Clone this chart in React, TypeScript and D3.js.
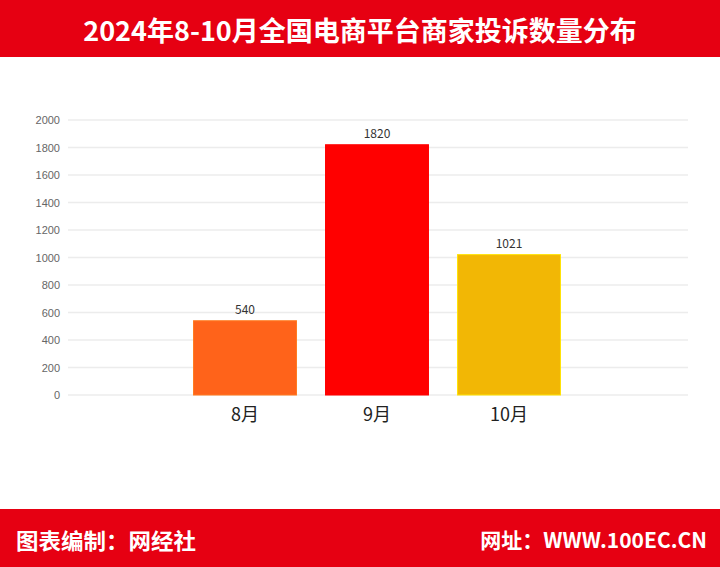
import React from "react";
import * as d3 from "d3";

const title = "2024年8-10月全国电商平台商家投诉数量分布";
const categories = ["8月", "9月", "10月"];
const values = [540, 1820, 1021];
const barColors = ["#FF631A", "#FF0000", "#F2B705"];
const yTicks = [0, 200, 400, 600, 800, 1000, 1200, 1400, 1600, 1800, 2000];
const footerLeft = "图表编制：网经社";
const footerRight = "网址：WWW.100EC.CN";

const W = 720;
const H = 567;
const RED = "#E60012";
const FONT = "'Noto Sans CJK SC', 'Noto Sans', sans-serif";

export default function App() {
  const y = d3.scaleLinear().domain([0, 2000]).range([395, 120]);
  const x = d3.scaleBand<string>().domain(categories).range([179, 575]).paddingInner(0.22).paddingOuter(0.11);
  const gridX1 = 68;
  const gridX2 = 688;

  return (
    <svg width={W} height={H} style={{ position: "absolute", left: 0, top: 0, display: "block" }}>
      <rect x={0} y={0} width={W} height={H} fill="#fff" />
      <rect x={0} y={0} width={W} height={57} fill={RED} />
      <text x={W / 2} y={29} textAnchor="middle" dominantBaseline="central" fill="#fff"
        fontFamily={FONT} fontWeight="bold" fontSize={27}>{title}</text>

      {yTicks.map((t) => (
        <g key={t}>
          <line x1={gridX1} x2={gridX2} y1={y(t)} y2={y(t)} stroke="#ececec" strokeWidth={1.5} />
          <text x={60} y={y(t)} textAnchor="end" dominantBaseline="central" fill="#666"
            fontFamily="'Liberation Sans', Arial, sans-serif" fontSize={11}>{t}</text>
        </g>
      ))}

      {categories.map((c, i) => {
        const x0 = x(c) as number;
        const bw = x.bandwidth();
        return (
          <g key={c}>
            <rect x={x0} y={y(values[i])} width={bw} height={y(0) - y(values[i])} fill={barColors[i]}
              stroke={d3.color(barColors[i])!.brighter(0.6).toString()} strokeWidth={1} />
            <text x={x0 + bw / 2} y={y(values[i]) - 7} textAnchor="middle" fill="#333"
              fontFamily={FONT} fontSize={12}>{values[i]}</text>
            <text x={x0 + bw / 2} y={413} textAnchor="middle" dominantBaseline="central" fill="#222"
              fontFamily={FONT} fontSize={18}>{c}</text>
          </g>
        );
      })}

      <rect x={0} y={509} width={W} height={H - 509} fill={RED} />
      <text x={16} y={539} dominantBaseline="central" fill="#fff" fontFamily={FONT} fontWeight="bold" fontSize={22}
        textLength={180} lengthAdjust="spacingAndGlyphs">{footerLeft}</text>
      <text x={707} y={539} textAnchor="end" dominantBaseline="central" fill="#fff" fontFamily={FONT} fontWeight="bold" fontSize={21}>{footerRight}</text>
    </svg>
  );
}
